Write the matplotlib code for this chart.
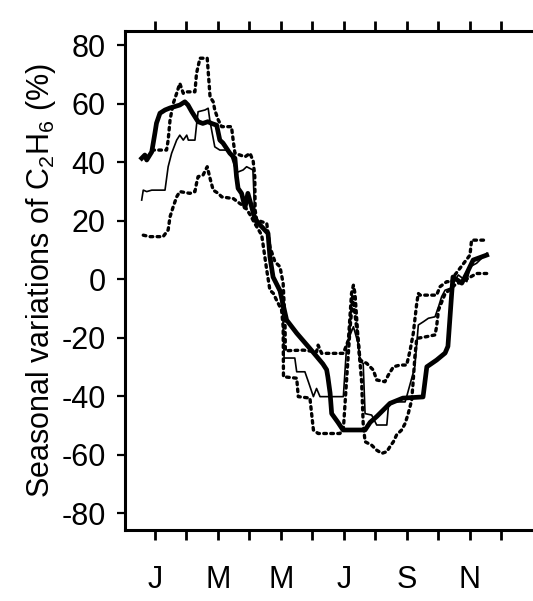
import matplotlib
matplotlib.use("Agg")
import matplotlib.pyplot as plt

plt.rcParams.update({
    "font.family": ["Liberation Sans", "DejaVu Sans"],
    "mathtext.fontset": "custom",
    "mathtext.rm": "Liberation Sans",
    "font.size": 22,
})

# time axis in months (1 = January), values in % departure from annual mean
mean_t = [0.58, 0.68, 0.74, 0.90, 1.00, 1.05, 1.16, 1.32, 1.48, 1.64, 1.79, 1.95, 2.05,
          2.17, 2.27, 2.37, 2.52, 2.68, 2.80, 2.96, 3.06, 3.16, 3.38, 3.54, 3.59, 3.64,
          3.75, 3.86, 3.95, 4.07, 4.18, 4.39, 4.59, 4.65, 4.75, 4.97, 5.18, 5.50, 5.70,
          6.02, 6.33, 6.45, 6.49, 6.56, 6.61, 6.81, 6.97, 7.67, 7.83, 8.04, 8.46, 8.87,
          9.51, 9.63, 9.94, 10.21, 10.30, 10.42, 10.46, 10.74, 10.90, 11.10, 11.53]
mean_v = [41.3, 42.4, 40.7, 43.5, 49.9, 53.3, 56.7, 57.8, 58.5, 59.0, 59.5, 60.6, 59.5,
          57.2, 55.5, 53.8, 53.2, 53.8, 53.2, 52.6, 47.5, 46.5, 43.0, 41.3, 35.0, 31.0,
          29.3, 24.5, 29.3, 24.7, 20.2, 17.9, 15.6, 7.6, 0.7, -4.0, -14.0, -18.5, -21.0,
          -25.0, -29.0, -31.0, -33.5, -39.0, -46.0, -49.0, -51.6, -51.6, -49.0, -47.0,
          -42.5, -40.7, -40.3, -30.0, -27.7, -25.3, -23.0, -4.8, 0.7, -1.4, 2.0, 6.5, 8.2]

model_t = [0.58, 0.63, 0.74, 0.90, 1.32, 1.42, 1.53, 1.69, 1.79, 1.90, 2.01, 2.06, 2.27,
           2.32, 2.37, 2.59, 2.69, 2.75, 2.90, 3.06, 3.28, 3.43, 3.59, 3.80, 3.91, 4.11,
           4.17, 4.39, 4.59, 4.65, 4.81, 4.97, 5.06, 5.10, 5.44, 5.50, 5.76, 5.87, 6.03,
           6.13, 6.24, 6.98, 7.09, 7.30, 7.45, 7.51, 7.61, 7.67, 7.88, 8.04, 8.36, 8.41,
           8.57, 8.94, 8.99, 9.25, 9.36, 9.52, 9.68, 9.89, 10.00, 10.10, 10.21, 10.37,
           10.63, 10.90, 11.00, 11.21, 11.53]
model_v = [27.0, 30.4, 29.9, 30.4, 30.4, 38.4, 43.0, 47.5, 49.2, 47.5, 49.2, 47.5, 47.5,
           52.6, 57.2, 57.8, 58.4, 53.8, 45.2, 44.1, 44.1, 41.8, 36.4, 37.3, 38.4, 37.3,
           22.0, 18.0, 15.6, 7.0, -1.0, -5.0, -12.0, -27.0, -27.0, -31.7, -31.7, -35.1,
           -40.2, -37.4, -40.2, -40.2, -22.0, -16.3, -22.0, -28.3, -28.8, -46.0, -46.5,
           -49.9, -49.9, -43.6, -42.0, -42.0, -40.2, -30.0, -15.7, -14.6, -13.4, -12.9,
           -9.5, -6.0, -3.8, -3.2, 1.4, -0.9, 4.2, 5.4, 8.8]

upper_t = [0.90, 1.37, 1.42, 1.48, 1.58, 1.69, 1.79, 1.90, 2.01, 2.27, 2.32, 2.43, 2.66,
           2.75, 2.85, 2.90, 3.01, 3.12, 3.43, 3.49, 3.54, 3.86, 4.02, 4.12, 4.17, 4.18,
           4.23, 4.55, 4.65, 4.81, 4.97, 5.07, 5.13, 5.14, 5.71, 6.13, 6.18, 6.29, 6.98,
           7.14, 7.24, 7.30, 7.35, 7.45, 7.51, 7.72, 7.93, 8.04, 8.30, 8.41, 8.57, 8.78,
           8.99, 9.10, 9.20, 9.31, 9.36, 9.41, 9.94, 10.05, 10.26, 10.42, 10.52, 11.00,
           11.05, 11.53]
upper_v = [44.1, 44.1, 47.5, 54.4, 60.0, 63.5, 66.9, 63.5, 64.0, 64.0, 70.3, 75.5, 75.5,
           62.3, 60.6, 57.8, 54.4, 52.1, 52.1, 46.9, 43.0, 41.8, 43.0, 40.2, 35.0, 23.6,
           20.2, 19.0, 11.0, 5.9, 4.2, -1.5, -15.0, -24.5, -24.3, -24.9, -22.6, -25.4,
           -25.4, -20.9, -4.9, -2.1, -4.9, -20.9, -27.7, -28.8, -31.1, -34.5, -35.1, -32.8,
           -30.0, -29.4, -29.4, -24.3, -18.6, -8.3, -4.9, -5.5, -5.5, -2.6, -0.9, -0.9,
           1.4, 8.2, 13.3, 13.3]

lower_t = [0.63, 0.84, 1.26, 1.42, 1.48, 1.58, 1.69, 1.79, 2.11, 2.27, 2.32, 2.37, 2.53,
           2.66, 2.75, 2.85, 3.01, 3.12, 3.49, 3.70, 3.86, 4.02, 4.17, 4.39, 4.55, 4.65,
           4.76, 4.86, 5.02, 5.07, 5.08, 5.50, 5.55, 5.92, 6.03, 6.18, 6.87, 6.98, 7.09,
           7.19, 7.28, 7.45, 7.56, 7.61, 7.67, 7.88, 8.04, 8.20, 8.36, 8.46, 8.57, 8.67,
           8.83, 8.94, 9.04, 9.15, 9.20, 9.25, 9.31, 9.62, 9.89, 9.94, 10.00, 10.21,
           10.52, 10.90, 11.21, 11.53]
lower_v = [15.0, 14.5, 14.5, 16.8, 21.3, 24.7, 28.1, 29.9, 29.3, 29.9, 32.7, 35.0, 35.6,
           38.4, 34.4, 30.4, 29.3, 28.1, 27.5, 25.8, 24.7, 22.0, 19.0, 15.0, 3.0, -3.8,
           -4.9, -7.2, -10.6, -16.3, -33.4, -33.9, -40.2, -40.7, -51.6, -52.8, -52.8,
           -51.6, -33.4, -17.4, -6.0, -20.9, -35.0, -49.4, -55.6, -56.8, -58.5, -59.6,
           -59.0, -57.3, -55.6, -53.3, -51.6, -49.4, -46.0, -41.4, -34.5, -26.6, -20.3,
           -19.7, -19.1, -16.3, -10.6, -5.0, -2.0, 0.0, 1.9, 1.9]

month_ticks = list(range(1, 13))
month_labels = ["J", "", "M", "", "M", "", "J", "", "S", "", "N", ""]
y_ticks = [80, 60, 40, 20, 0, -20, -40, -60, -80]

fig = plt.figure(figsize=(5.33, 6.01), dpi=100)
ax = fig.add_axes([0.2345, 0.1181, 0.7655, 0.8303])

dot = dict(color="black", linewidth=2.4, linestyle=(0, (0.8, 1.3)),
           dash_capstyle="round")
ax.plot(upper_t, upper_v, **dot)
ax.plot(lower_t, lower_v, **dot)
ax.plot(model_t, model_v, color="black", linewidth=1.2)
ax.plot(mean_t, mean_v, color="black", linewidth=3.4, solid_joinstyle="round")

ax.set_xlim(0.05, 13.0)
ax.set_ylim(-85.8, 84.8)

ax.set_xticks(month_ticks)
ax.set_xticklabels(month_labels)
ax.set_yticks(y_ticks)
ax.set_yticklabels([str(v) for v in y_ticks])

ax.spines["right"].set_visible(False)
for side in ("left", "bottom", "top"):
    ax.spines[side].set_linewidth(2.2)

ax.tick_params(axis="x", which="major", direction="out", length=7, width=2,
               pad=18, top=True, labelsize=22)
ax.tick_params(axis="y", which="major", direction="out", length=6, width=1.6,
               pad=8, labelsize=22)

ax.set_ylabel(r"Seasonal variations of C$_{\mathregular{2}}$H$_{\mathregular{6}}$ (%)",
              fontsize=22)
ax.yaxis.set_label_coords(-0.165, 0.5)

fig.savefig("out.png", dpi=100)
